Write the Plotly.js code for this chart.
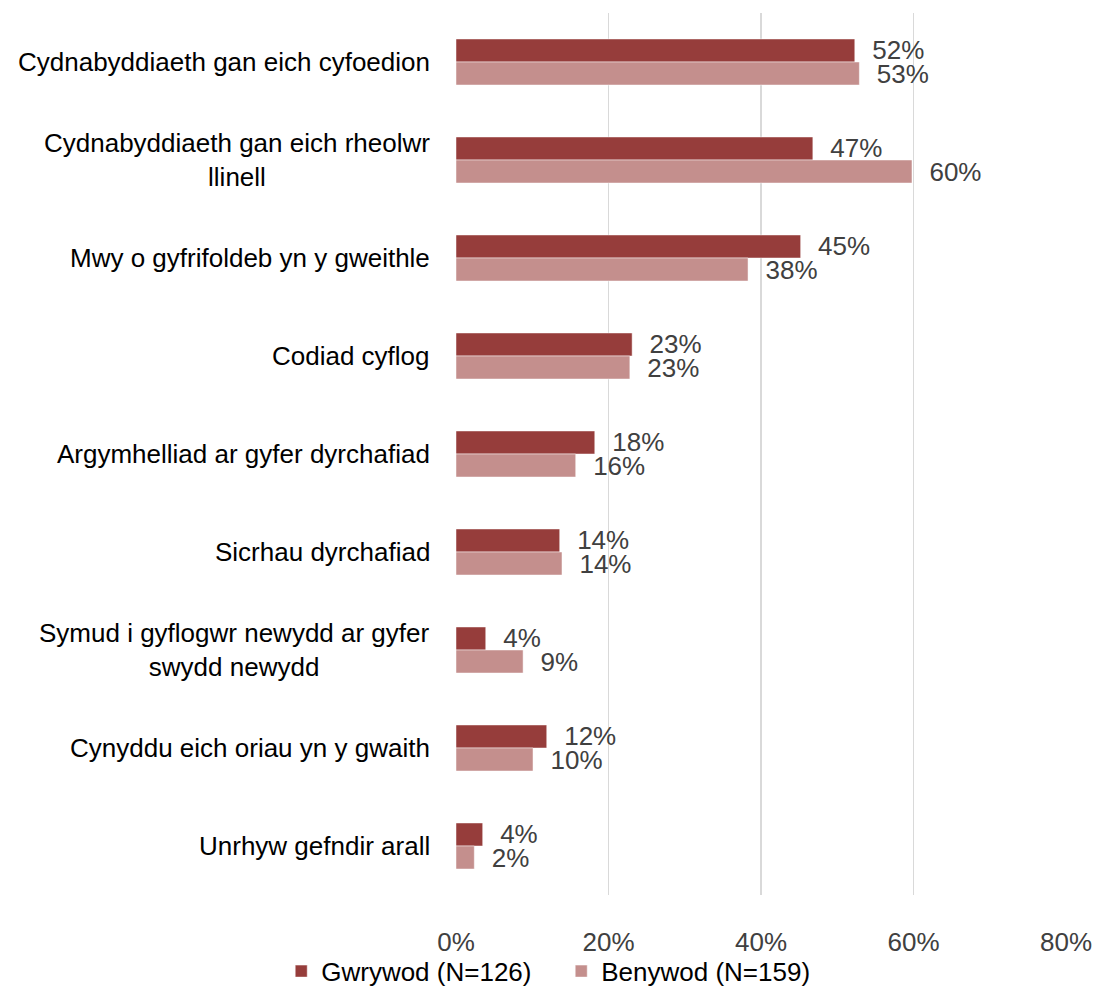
<!DOCTYPE html>
<html>
<head>
<meta charset="utf-8">
<script src="https://cdn.plot.ly/plotly-3.0.1.min.js"></script>
<style>html,body{margin:0;padding:0;background:#fff;}#chart{width:1094px;height:988px;}</style>
</head>
<body>
<div id="chart"></div>
<script>
const categories = [
  "Cydnabyddiaeth gan eich cyfoedion",
  "Cydnabyddiaeth gan eich rheolwr<br>llinell",
  "Mwy o gyfrifoldeb yn y gweithle",
  "Codiad cyflog",
  "Argymhelliad ar gyfer dyrchafiad",
  "Sicrhau dyrchafiad",
  "Symud i gyflogwr newydd ar gyfer<br>swydd newydd",
  "Cynyddu eich oriau yn y gwaith",
  "Unrhyw gefndir arall"
];
const seriesNames = ["Gwrywod (N=126)", "Benywod (N=159)"];
const maleValues = [52.3, 46.8, 45.2, 23.1, 18.2, 13.6, 3.9, 11.9, 3.5];
const femaleValues = [52.9, 59.8, 38.3, 22.8, 15.7, 13.9, 8.8, 10.1, 2.4];
const maleLabels = ["52%", "47%", "45%", "23%", "18%", "14%", "4%", "12%", "4%"];
const femaleLabels = ["53%", "60%", "38%", "23%", "16%", "14%", "9%", "10%", "2%"];
const xTickValues = [0, 20, 40, 60, 80];
const xTickLabels = ["0%", "20%", "40%", "60%", "80%"];

const FONT = "Liberation Sans, Arial, sans-serif";
const FS = 26;
const colors = ["#963d3b", "#c48f8d"];

function barTrace(name, values, labels, color) {
  return {
    type: "bar",
    orientation: "h",
    name: name,
    y: categories,
    x: values,
    text: labels,
    texttemplate: "  %{text}",
    textposition: "outside",
    cliponaxis: false,
    constraintext: "none",
    textfont: {family: FONT, size: FS, color: "#404040"},
    marker: {color: color, line: {color: "rgba(255,255,255,0.6)", width: 0.8}},
    hoverinfo: "skip"
  };
}

const data = [
  barTrace(seriesNames[0], maleValues, maleLabels, colors[0]),
  barTrace(seriesNames[1], femaleValues, femaleLabels, colors[1])
];

const annotations = categories.map(c => ({
  xref: "paper", yref: "y", x: 0, y: c, xshift: -24,
  xanchor: "right", yanchor: "middle", align: "center",
  text: c, showarrow: false,
  font: {family: FONT, size: FS, color: "#000"}
}));

const layout = {
  width: 1094, height: 988,
  margin: {l: 456, r: 28, t: 13, b: 93},
  paper_bgcolor: "#fff", plot_bgcolor: "#fff",
  font: {family: FONT, size: FS, color: "#000"},
  barmode: "group",
  bargap: 0.53,
  bargroupgap: 0,
  showlegend: true,
  xaxis: {
    range: [0, 80],
    tickvals: xTickValues,
    ticktext: xTickLabels,
    showgrid: true, gridcolor: "#d9d9d9", gridwidth: 1.5,
    zeroline: false, showline: false, ticks: "",
    tickfont: {family: FONT, size: FS, color: "#404040"},
    ticklabelstandoff: 29
  },
  yaxis: {
    type: "category",
    autorange: "reversed",
    showticklabels: false,
    showgrid: false, zeroline: false, showline: false, ticks: ""
  },
  legend: {
    orientation: "h",
    xref: "container", yref: "container",
    x: 0.513, xanchor: "center",
    y: 0.017, yanchor: "middle",
    bgcolor: "rgba(0,0,0,0)",
    font: {family: FONT, size: FS, color: "#000"},
    itemclick: false, itemdoubleclick: false,
    traceorder: "normal",
    entrywidthmode: "pixels",
    entrywidth: 235
  },
  annotations: annotations
};

Plotly.newPlot("chart", data, layout, {staticPlot: true, displayModeBar: false});
</script>
</body>
</html>
